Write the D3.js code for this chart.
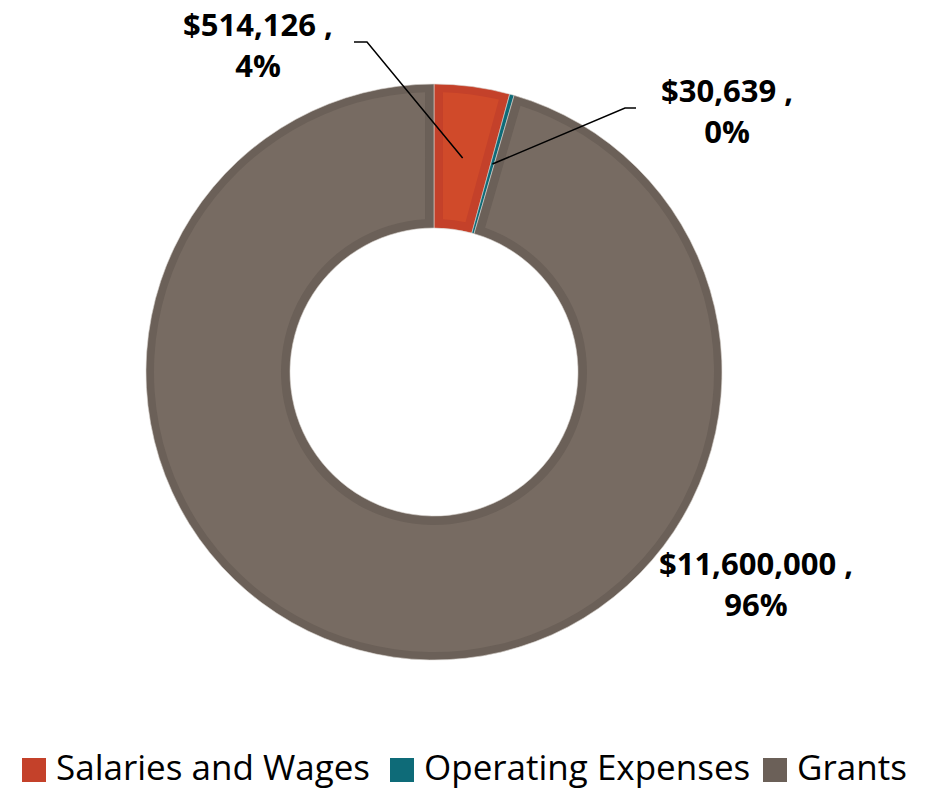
<!DOCTYPE html>
<html>
<head>
<meta charset="utf-8">
<script src="https://cdn.jsdelivr.net/npm/d3@7"></script>
<style>
  body { margin: 0; background: #fff; }
  text { font-family: "Open Sans", "Noto Sans", sans-serif; }
</style>
</head>
<body>
<div id="chart"></div>
<script>
// chart data
var categories = ["Salaries and Wages", "Operating Expenses", "Grants"];
var amounts = [514126, 30639, 11600000];
var percentLabels = ["4%", "0%", "96%"];

// colours: [rim, fill]
var colors = [["#c4412a", "#d04a2a"], ["#0e6b78", "#0e6b78"], ["#6b6058", "#776b62"]];

var svgWidth = 928;
var svgHeight = 792;

var cx = 434, cy = 372;
var outerR = 288, innerR = 144;

var svg = d3.select("#chart").append("svg")
  .attr("width", svgWidth)
  .attr("height", svgHeight);

var data = categories.map(function(c, i) {
  return { name: c, value: amounts[i], pct: percentLabels[i], idx: i };
});

var pie = d3.pie().sort(null).value(d => d.value);
var arcs = pie(data);

var arcOuter = d3.arc().innerRadius(innerR).outerRadius(outerR);
var arcInset = d3.arc().innerRadius(innerR + 9).outerRadius(outerR - 8)
  .padRadius(100).padAngle(0.18);

var donut = svg.append("g").attr("transform", `translate(${cx}, ${cy})`);

// slice rims
donut.selectAll("path.rim")
  .data(arcs)
  .enter()
  .append("path")
  .attr("class", "rim")
  .attr("d", arcOuter)
  .attr("fill", d => colors[d.data.idx][0])
  .attr("stroke", "#d9d4cf")
  .attr("stroke-width", 0.6);

// lighter inside of each slice (skip slivers)
donut.selectAll("path.inner")
  .data(arcs.filter(d => (d.endAngle - d.startAngle) * outerR > 30))
  .enter()
  .append("path")
  .attr("class", "inner")
  .attr("d", arcInset)
  .attr("fill", d => colors[d.data.idx][1]);

function fmt(v) { return "$" + d3.format(",")(v) + " ,"; }

// label placement (baseline of first line) and leader elbow
var labelPos = [
  { x: 258, y: 36, elbow: [[354, 42], [367, 42]] },
  { x: 727, y: 102, elbow: [[636, 108], [625, 108]] },
  { x: 756, y: 575, elbow: null }
];

// leader lines go from the elbow to the slice centroid
arcs.forEach(function(a, i) {
  var lp = labelPos[i];
  if (!lp.elbow) return;
  var c = arcOuter.centroid(a);
  var pts = lp.elbow.concat([[cx + c[0], cy + c[1]]]);
  svg.append("path")
    .attr("d", d3.line()(pts))
    .attr("fill", "none")
    .attr("stroke", "#000")
    .attr("stroke-width", 1.5);
});

var labels = svg.selectAll("text.lbl")
  .data(arcs)
  .enter()
  .append("text")
  .attr("class", "lbl")
  .attr("text-anchor", "middle")
  .style("font-size", "31px")
  .style("font-weight", "bold")
  .attr("fill", "#000");

labels.append("tspan")
  .attr("x", d => labelPos[d.data.idx].x)
  .attr("y", d => labelPos[d.data.idx].y)
  .text(d => fmt(d.data.value));

labels.append("tspan")
  .attr("x", d => labelPos[d.data.idx].x)
  .attr("dy", 41)
  .text(d => d.data.pct);

// legend
var legendX = [22, 390, 763];
var legend = svg.append("g");
categories.forEach(function(c, i) {
  var g = legend.append("g").attr("transform", `translate(${legendX[i]}, 758)`);
  g.append("rect")
    .attr("width", 24)
    .attr("height", 24)
    .attr("fill", colors[i][0]);
  g.append("text")
    .attr("x", 34)
    .attr("y", 22)
    .style("font-size", "35px")
    .attr("fill", "#000")
    .text(c);
});
</script>
</body>
</html>
